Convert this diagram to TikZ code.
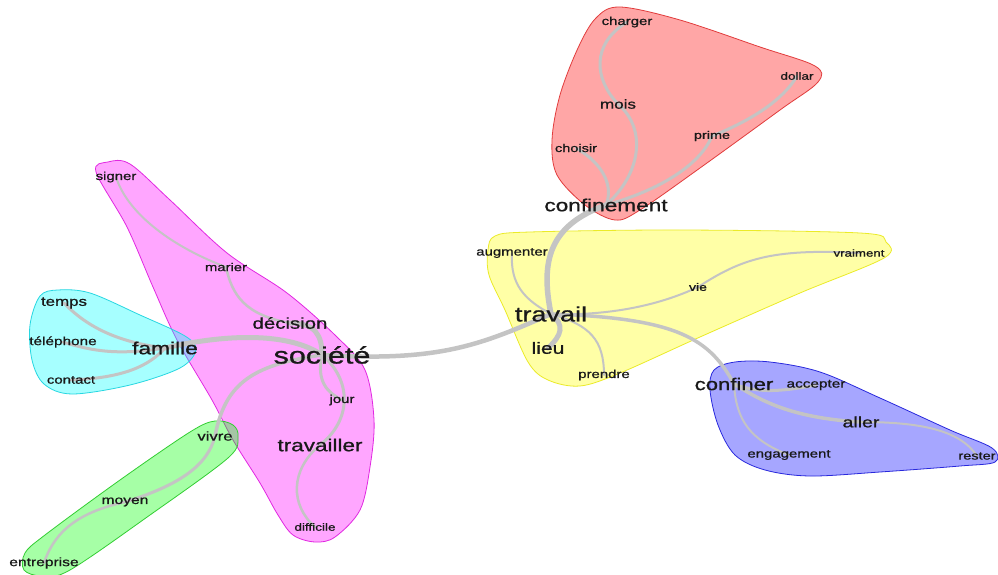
\documentclass[tikz,border=0pt]{standalone}
\usepackage{fontspec}
\setmainfont{Liberation Sans}
\newfontfamily\wfont{Liberation Sans}[FakeBold=0.8]
\usepackage{graphicx}
\pgfdeclarelayer{bgl}
\pgfdeclarelayer{hulls}
\pgfdeclarelayer{edges}
\pgfsetlayers{bgl,hulls,edges,main}
\definecolor{hR}{RGB}{255,0,0}
\definecolor{hY}{RGB}{255,255,0}
\definecolor{hB}{RGB}{0,0,255}
\definecolor{hM}{RGB}{255,0,255}
\definecolor{hC}{RGB}{0,255,255}
\definecolor{hG}{RGB}{0,255,0}
\definecolor{bR}{RGB}{225,60,60}
\definecolor{bY}{RGB}{235,235,40}
\definecolor{bB}{RGB}{40,40,220}
\definecolor{bM}{RGB}{225,40,225}
\definecolor{bC}{RGB}{40,215,225}
\definecolor{bG}{RGB}{50,205,50}
\newcommand{\wlab}[2]{\scalebox{1.3}[1]{\wfont\fontsize{#1}{#1}\selectfont #2}}
\tikzset{
  word/.style={inner sep=0pt, text=black!90},
  lk/.style={draw=black!23, line cap=round, line width=#1},
  hull/.style 2 args={fill=#1, fill opacity=0.35, draw=#2, line width=0.8pt},
}
\begin{document}
\begin{tikzpicture}[x=1pt,y=-1pt]
\useasboundingbox (0,0) rectangle (998,575);
\begin{pgfonlayer}{bgl}
\fill[white] (0,0) rectangle (998,575);
\end{pgfonlayer}

% words
\node[word] (charger) at (627,22) {\wlab{11.5}{charger}};
\node[word] (dollar) at (797,76) {\wlab{10.4}{dollar}};
\node[word] (mois) at (618,104) {\wlab{13.1}{mois}};
\node[word] (choisir) at (576,148) {\wlab{11.2}{choisir}};
\node[word] (prime) at (712,136) {\wlab{11.1}{prime}};
\node[word] (confinement) at (606,205) {\wlab{17.4}{confinement}};

\node[word] (augmenter) at (512,253) {\wlab{11.5}{augmenter}};
\node[word] (vraiment) at (859,253) {\wlab{10.2}{vraiment}};
\node[word] (vie) at (698,287) {\wlab{10.8}{vie}};
\node[word] (travail) at (551,314) {\wlab{20.8}{travail}};
\node[word] (lieu) at (548,348) {\wlab{16.2}{lieu}};
\node[word] (prendre) at (604,375) {\wlab{11.5}{prendre}};

\node[word] (confiner) at (734,384) {\wlab{17}{confiner}};
\node[word] (accepter) at (816,385) {\wlab{11.8}{accepter}};
\node[word] (aller) at (861,422) {\wlab{15}{aller}};
\node[word] (engagement) at (789,455) {\wlab{11.5}{engagement}};
\node[word] (rester) at (977,456) {\wlab{11.2}{rester}};

\node[word] (signer) at (116,177) {\wlab{11.5}{signer}};
\node[word] (marier) at (226,267) {\wlab{11.4}{marier}};
\node[word] (decision) at (290,323) {\wlab{15.7}{décision}};
\node[word] (societe) at (322,355) {\wlab{23.5}{société}};
\node[word] (jour) at (342,400) {\wlab{11.5}{jour}};
\node[word] (travailler) at (320,445) {\wlab{17.3}{travailler}};
\node[word] (difficile) at (315,527) {\wlab{10.4}{difficile}};

\node[word] (temps) at (64,303) {\wlab{13}{temps}};
\node[word] (telephone) at (63,342) {\wlab{11.8}{téléphone}};
\node[word] (contact) at (71,380) {\wlab{11.5}{contact}};
\node[word] (famille) at (165,348) {\wlab{17.5}{famille}};

\node[word] (vivre) at (215,436) {\wlab{12.8}{vivre}};
\node[word] (moyen) at (125,502) {\wlab{12}{moyen}};
\node[word] (entreprise) at (44,563) {\wlab{12}{entreprise}};

\begin{pgfonlayer}{hulls}
\draw[hull={hR}{bR}] plot[smooth cycle, tension=0.55] coordinates {(596,18) (620,7) (680,20) (760,47) (815,66) (818,82) (780,110) (700,168) (640,210) (615,220) (585,205) (557,175) (552,140) (560,95) (578,48)};
\draw[hull={hY}{bY}] plot[smooth cycle, tension=0.55] coordinates {(488,250) (495,236) (530,232) (680,230) (860,233) (886,242) (884,258) (800,293) (700,337) (620,373) (580,386) (548,380) (528,362) (505,310) (489,275)};
\draw[hull={hB}{bB}] plot[smooth cycle, tension=0.55] coordinates {(714,370) (735,362) (770,362) (820,372) (880,398) (950,430) (992,448) (995,462) (960,466) (880,472) (810,476) (765,470) (735,455) (718,425) (710,390)};
\draw[hull={hM}{bM}] plot[smooth cycle, tension=0.55] coordinates {(96,172) (108,162) (130,164) (170,200) (227,253) (287,293) (337,337) (365,370) (374,420) (370,467) (360,510) (335,537) (315,542) (293,535) (278,515) (260,483) (233,440) (212,400) (177,340) (153,287) (127,227)};
\draw[hull={hC}{bC}] plot[smooth cycle, tension=0.55] coordinates {(40,296) (58,290) (90,293) (140,315) (185,336) (196,350) (180,368) (130,385) (72,394) (44,384) (32,360) (30,325)};
\draw[hull={hG}{bG}] plot[smooth cycle, tension=0.55] coordinates {(190,432) (215,421) (233,425) (238,437) (228,458) (150,515) (70,570) (42,576) (24,570) (25,553) (45,535) (120,480)};
\end{pgfonlayer}

\begin{pgfonlayer}{edges}
% main trunk
\draw[lk=4.5] (societe.center) .. controls (440,362) and (480,345) .. (travail.center);
\draw[lk=5.5] (travail.center) .. controls (540,260) and (550,225) .. (confinement.center);
\draw[lk=5] (travail.center) .. controls (565,325) and (562,335) .. (lieu.center);
\draw[lk=2] (travail.center) .. controls (525,300) and (510,285) .. (augmenter.center);
\draw[lk=2] (travail.center) .. controls (610,316) and (660,305) .. (vie.center);
\draw[lk=2] (vie.center) .. controls (740,260) and (770,248) .. (vraiment.center);
\draw[lk=2] (travail.center) .. controls (590,325) and (604,340) .. (prendre.center);
\draw[lk=3.5] (travail.center) .. controls (680,318) and (710,340) .. (confiner.center);
% blue
\draw[lk=3] (confiner.center) .. controls (755,392) and (775,393) .. (accepter.center);
\draw[lk=3.5] (confiner.center) .. controls (760,400) and (790,418) .. (aller.center);
\draw[lk=2] (confiner.center) .. controls (736,420) and (750,440) .. (engagement.center);
\draw[lk=2] (aller.center) .. controls (920,422) and (960,430) .. (rester.center);
% red
\draw[lk=3] (confinement.center) .. controls (614,185) and (602,163) .. (choisir.center);
\draw[lk=3] (confinement.center) .. controls (640,175) and (648,130) .. (mois.center);
\draw[lk=3] (mois.center) .. controls (595,80) and (590,45) .. (charger.center);
\draw[lk=3] (confinement.center) .. controls (660,190) and (700,165) .. (prime.center);
\draw[lk=3] (prime.center) .. controls (740,125) and (780,105) .. (dollar.center);
% magenta
\draw[lk=5] (famille.center) .. controls (230,333) and (290,333) .. (societe.center);
\draw[lk=5] (decision.center) .. controls (315,323) and (322,335) .. (societe.center);
\draw[lk=2.5] (marier.center) .. controls (232,295) and (245,315) .. (decision.center);
\draw[lk=2] (signer.center) .. controls (128,215) and (175,248) .. (marier.center);
\draw[lk=3] (societe.center) .. controls (316,382) and (328,393) .. (jour.center);
\draw[lk=3] (societe.center) .. controls (352,380) and (352,420) .. (travailler.center);
\draw[lk=2.5] (travailler.center) .. controls (290,470) and (290,505) .. (difficile.center);
\draw[lk=3.5] (societe.center) .. controls (250,365) and (225,385) .. (vivre.center);
% green
\draw[lk=3] (vivre.center) .. controls (208,465) and (180,485) .. (moyen.center);
\draw[lk=2.5] (moyen.center) .. controls (80,512) and (55,530) .. (entreprise.center);
% cyan
\draw[lk=3] (famille.center) .. controls (115,342) and (85,325) .. (temps.center);
\draw[lk=3] (famille.center) .. controls (120,355) and (95,352) .. (telephone.center);
\draw[lk=3] (famille.center) .. controls (150,365) and (125,378) .. (contact.center);
\end{pgfonlayer}
\end{tikzpicture}
\end{document}
